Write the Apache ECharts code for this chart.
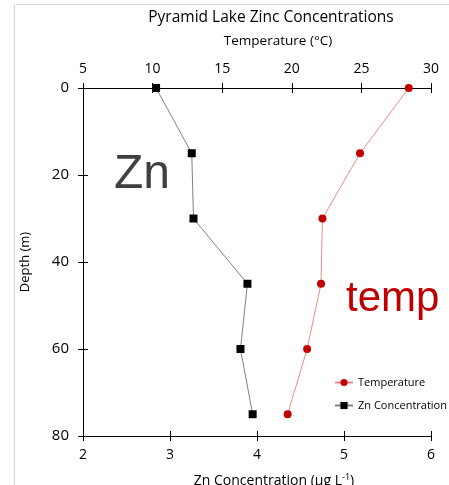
<!DOCTYPE html>
<html>
<head>
<meta charset="utf-8">
<script src="https://cdn.jsdelivr.net/npm/echarts@6/dist/echarts.min.js"></script>
<style>
  html, body { margin: 0; padding: 0; background: #fff; }
  #chart { width: 449px; height: 485px; }
</style>
</head>
<body>
<div id="chart"></div>
<script>
// Depth profile samples (m)
const depths = [0, 15, 30, 45, 60, 75];
// Zinc concentration at each depth (µg L-1)
const zincValues = [2.84, 3.25, 3.27, 3.89, 3.81, 3.95];
// Water temperature at each depth (°C)
const tempValues = [28.4, 24.9, 22.2, 22.1, 21.1, 19.7];
// Axis ranges and tick spacing
const zincTicks = { min: 2, max: 6, interval: 1 };
const tempTicks = { min: 5, max: 30, interval: 5 };
const depthTicks = { min: 0, max: 80, interval: 20 };

const FONT = 'Open Sans';
const zincData = depths.map((d, i) => [zincValues[i], d]);
const tempData = depths.map((d, i) => [tempValues[i], d]);

const chart = echarts.init(document.getElementById('chart'), null, { renderer: 'canvas' });

const axisLine = { show: true, onZero: false, lineStyle: { color: '#000', width: 1 } };

function xAxisDef(ticks, position, withLabels, inside) {
  return {
    type: 'value',
    position: position,
    min: ticks.min, max: ticks.max, interval: ticks.interval,
    axisLine: axisLine,
    axisTick: { show: true, inside: inside, length: 5, lineStyle: { color: '#000' } },
    axisLabel: { show: withLabels, margin: 12, fontFamily: FONT, fontSize: 14, color: '#000' },
    splitLine: { show: false }
  };
}

chart.setOption({
  animation: false,
  backgroundColor: '#fff',
  grid: { left: 83, right: 18, top: 88, bottom: 49, containLabel: false },
  xAxis: [
    xAxisDef(zincTicks, 'bottom', true, false),
    xAxisDef(tempTicks, 'top', true, false),
    xAxisDef(zincTicks, 'bottom', false, true),
    xAxisDef(tempTicks, 'top', false, true)
  ],
  yAxis: [
    {
      type: 'value', inverse: true,
      min: depthTicks.min, max: depthTicks.max, interval: depthTicks.interval,
      name: 'Depth (m)', nameLocation: 'middle', nameGap: 51, nameRotate: 90,
      nameTextStyle: { fontFamily: FONT, fontSize: 13, color: '#000' },
      axisLine: axisLine,
      axisTick: { show: true, inside: false, length: 5, lineStyle: { color: '#000' } },
      axisLabel: { margin: 14, fontFamily: FONT, fontSize: 15, color: '#000' },
      splitLine: { show: false }
    },
    {
      type: 'value', inverse: true, position: 'left',
      min: depthTicks.min, max: depthTicks.max, interval: depthTicks.interval,
      axisLine: { show: false },
      axisTick: { show: true, inside: true, length: 5, lineStyle: { color: '#000' } },
      axisLabel: { show: false },
      splitLine: { show: false }
    }
  ],
  legend: {
    orient: 'vertical', left: 334, top: 377, padding: 0,
    itemWidth: 18, itemHeight: 9, itemGap: 12,
    textStyle: { fontFamily: FONT, fontSize: 11, color: '#000' },
    data: ['Temperature', 'Zn Concentration']
  },
  series: [
    {
      name: 'Temperature', type: 'line',
      xAxisIndex: 1, yAxisIndex: 0,
      data: tempData,
      symbol: 'circle', symbolSize: 8,
      itemStyle: { color: '#c00000' },
      lineStyle: { color: '#f08a8a', width: 1 },
      z: 3
    },
    {
      name: 'Zn Concentration', type: 'line',
      xAxisIndex: 0, yAxisIndex: 0,
      data: zincData,
      symbol: 'rect', symbolSize: 8,
      itemStyle: { color: '#000' },
      lineStyle: { color: '#808080', width: 1 },
      z: 3
    }
  ],
  graphic: [
    {
      type: 'rect', silent: true, z: -10,
      shape: { x: 14.5, y: 4.5, width: 460, height: 500 },
      style: { fill: '#fff', stroke: '#d9d9d9', lineWidth: 1 }
    },
    {
      type: 'text', x: 271, y: 18,
      style: { text: 'Pyramid Lake Zinc Concentrations', font: '15.5px "' + FONT + '"', fill: '#000', align: 'center', verticalAlign: 'middle' }
    },
    {
      type: 'text', x: 278, y: 41,
      style: { text: 'Temperature (°C)', font: '13.5px "' + FONT + '"', fill: '#000', align: 'center', verticalAlign: 'middle' }
    },
    {
      type: 'text', x: 274, y: 481,
      style: {
        text: 'Zn Concentration (µg L{sup|-1})',
        font: '14px "' + FONT + '"', fill: '#000', align: 'center', verticalAlign: 'middle',
        rich: { sup: { fontSize: 9, fontFamily: FONT, verticalAlign: 'top', padding: [0, 0, 7, 0] } }
      }
    },
    {
      type: 'text', x: 114, y: 151,
      style: { text: 'Zn', font: '48px "Liberation Sans"', fill: '#404040', verticalAlign: 'top' }
    },
    {
      type: 'text', x: 346, y: 278,
      style: { text: 'temp', font: '42px "Liberation Sans"', fill: '#c00000', verticalAlign: 'top' }
    }
  ]
});
</script>
</body>
</html>
